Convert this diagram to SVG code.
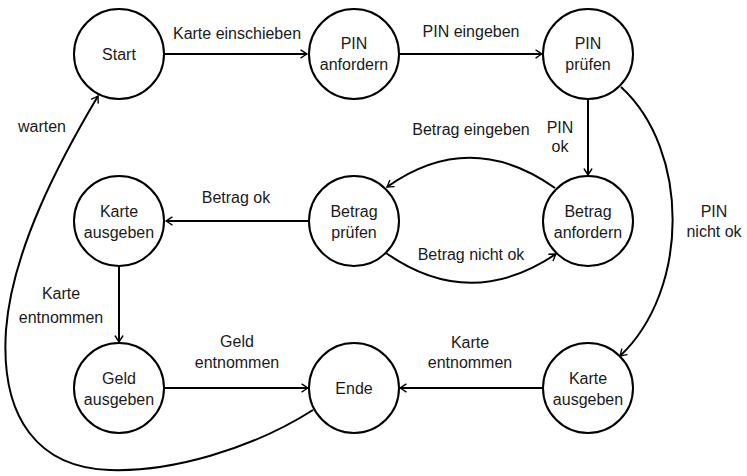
<svg xmlns="http://www.w3.org/2000/svg" width="747" height="476" viewBox="0 0 747 476">
<style>
  .node circle { fill: #fff; stroke: #000; stroke-width: 2; }
  text { font-family: "Liberation Sans", Arial, sans-serif; font-size: 16px; fill: #1a1a1a; text-anchor: middle; }
  .edge { fill: none; stroke: #000; stroke-width: 2; marker-end: url(#arr); }
</style>
<defs>
  <marker id="arr" markerUnits="userSpaceOnUse" viewBox="-8 -5 10 10" refX="0" refY="0" markerWidth="10" markerHeight="10" orient="auto">
    <path d="M -6 -3.8 Q -2 -1.2 0 0 Q -2 1.2 -6 3.8" fill="none" stroke="#000" stroke-width="1.4" stroke-linecap="round"/>
  </marker>
</defs>
<rect width="747" height="476" fill="#fff"/>
<g id="connectors">
  <path class="edge" d="M 164 54 L 307 54"/>
  <path class="edge" d="M 399 54 L 542 54"/>
  <path class="edge" d="M 588 99 L 588 175"/>
  <path class="edge" d="M 555 188 Q 470 128 387 187"/>
  <path class="edge" d="M 386 253 Q 470 312 556 254"/>
  <path class="edge" d="M 308 221 L 166 221"/>
  <path class="edge" d="M 119 266 L 119 342"/>
  <path class="edge" d="M 164 388 L 308 388"/>
  <path class="edge" d="M 543 388 L 400 388"/>
  <path class="edge" d="M 621 87 C 690 150, 690 290, 620 356"/>
  <path class="edge" d="M 313 410 C 250 450, 170 472, 110 470 C 40 468, 0 420, 6 330 C 12 250, 60 160, 98 96"/>
  <text x="237" y="39">Karte einschieben</text>
  <text x="471" y="37">PIN eingeben</text>
  <text x="560" y="133">PIN</text>
  <text x="560" y="152">ok</text>
  <text x="471" y="135">Betrag eingeben</text>
  <text x="471" y="260">Betrag nicht ok</text>
  <text x="236" y="203">Betrag ok</text>
  <text x="61" y="299">Karte</text>
  <text x="61" y="323">entnommen</text>
  <text x="42" y="132">warten</text>
  <text x="714" y="217">PIN</text>
  <text x="714" y="237">nicht ok</text>
  <text x="237" y="347">Geld</text>
  <text x="237" y="368">entnommen</text>
  <text x="470" y="348">Karte</text>
  <text x="470" y="368">entnommen</text>
</g>
<g id="start" class="node"><circle cx="119" cy="54" r="45"/><text x="119" y="60">Start</text></g>
<g id="pin-anfordern" class="node"><circle cx="354" cy="54" r="45"/><text x="354" y="49">PIN</text><text x="354" y="70">anfordern</text></g>
<g id="pin-pruefen" class="node"><circle cx="588" cy="54" r="45"/><text x="588" y="49">PIN</text><text x="588" y="70">prüfen</text></g>
<g id="karte-ausgeben-1" class="node"><circle cx="119" cy="221" r="45"/><text x="119" y="217">Karte</text><text x="119" y="238">ausgeben</text></g>
<g id="betrag-pruefen" class="node"><circle cx="354" cy="221" r="45"/><text x="354" y="217">Betrag</text><text x="354" y="238">prüfen</text></g>
<g id="betrag-anfordern" class="node"><circle cx="588" cy="221" r="45"/><text x="588" y="217">Betrag</text><text x="588" y="238">anfordern</text></g>
<g id="geld-ausgeben" class="node"><circle cx="119" cy="388" r="45"/><text x="119" y="384">Geld</text><text x="119" y="405">ausgeben</text></g>
<g id="ende" class="node"><circle cx="354" cy="388" r="45"/><text x="354" y="394">Ende</text></g>
<g id="karte-ausgeben-2" class="node"><circle cx="588" cy="388" r="45"/><text x="588" y="384">Karte</text><text x="588" y="405">ausgeben</text></g>
</svg>
